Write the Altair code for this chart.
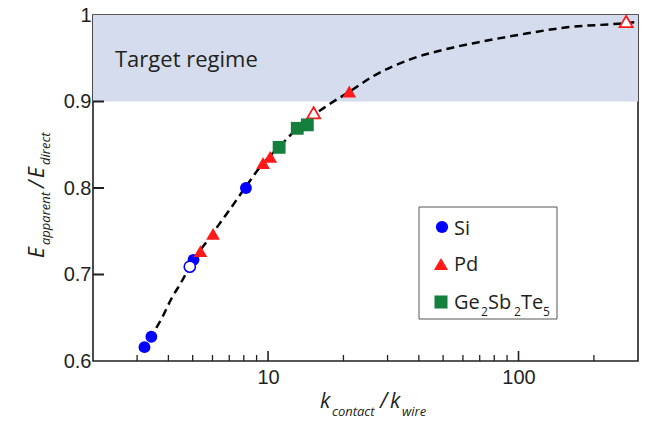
import altair as alt
import pandas as pd

# ---- data ----
si_k = [3.21, 3.42, 5.04, 8.16]
si_e = [0.616, 0.628, 0.717, 0.800]
si_open_k = [4.87]
si_open_e = [0.709]
pd_k = [5.37, 6.03, 9.55, 10.2, 21.1]
pd_e = [0.727, 0.747, 0.829, 0.836, 0.9115]
pd_open_k = [15.2, 269]
pd_open_e = [0.887, 0.9925]
gst_k = [11.07, 13.08, 14.35]
gst_e = [0.847, 0.869, 0.873]

curve_k = [3.15, 3.42, 3.79, 4.11, 4.48, 5.00, 5.75, 7.03, 8.08, 9.46, 11.2, 13.4,
           17.4, 21.3, 26.2, 37.2, 50.4, 67.8, 100, 159, 252, 300]
curve_e = [0.613, 0.629, 0.651, 0.672, 0.690, 0.715, 0.740, 0.775, 0.800, 0.827, 0.849, 0.872,
           0.896, 0.912, 0.929, 0.949, 0.960, 0.968, 0.977, 0.986, 0.990, 0.992]

x_labels = [10, 100]
x_minor = [3, 4, 5, 6, 7, 8, 9, 20, 30, 40, 50, 60, 70, 80, 90, 200]
x_major = [10, 100]
y_labels = [0.6, 0.7, 0.8, 0.9, 1.0]
y_inner = [0.7, 0.8, 0.9]
target_lo, target_hi = 0.9, 1.0

W, H = 545, 346
BLUE = "#0000ff"
RED = "#ff1a1a"
GREEN = "#15803d"
INK = "#231f20"

xs = alt.Scale(type="log", domain=[2, 300], nice=False)
ys = alt.Scale(domain=[0.6, 1.0], nice=False, zero=False)
x_axis = alt.Axis(values=x_labels, format=".0f", ticks=False, domain=False, grid=False,
                  labelFontSize=20, labelFont="Liberation Sans", labelColor=INK,
                  labelPadding=6, title=None)
y_axis = alt.Axis(values=y_labels, format=".1~f", ticks=False, domain=False, grid=False,
                  labelFontSize=20, labelFont="Liberation Sans", labelColor=INK,
                  labelPadding=2, title=None)


def df(k, e):
    return pd.DataFrame({"k": k, "e": e})


X = alt.X("k:Q", scale=xs, axis=x_axis)
Y = alt.Y("e:Q", scale=ys, axis=y_axis)

shade = alt.Chart(pd.DataFrame({"k": [2], "k2": [300], "e": [target_lo], "e2": [target_hi]})).mark_rect(
    color="#d4dcee").encode(x=X, x2="k2:Q", y=Y, y2="e2:Q")

curve = alt.Chart(df(curve_k, curve_e)).mark_line(
    color="black", strokeWidth=2.5, strokeDash=[8, 5], interpolate="monotone").encode(x=X, y=Y)

si = alt.Chart(df(si_k, si_e)).mark_point(shape="circle", filled=True, color=BLUE, size=140, opacity=1).encode(x=X, y=Y)
si_open = alt.Chart(df(si_open_k, si_open_e)).mark_point(
    shape="circle", filled=True, fill="white", stroke=BLUE, strokeWidth=1.6, size=125, opacity=1).encode(x=X, y=Y)
pdm = alt.Chart(df(pd_k, pd_e)).mark_point(shape="triangle-up", filled=True, color=RED, size=190, opacity=1).encode(x=X, y=Y)
pd_open = alt.Chart(df(pd_open_k, pd_open_e)).mark_point(
    shape="triangle-up", filled=True, fill="white", stroke=RED, strokeWidth=1.8, size=170, opacity=1).encode(x=X, y=Y)
gst = alt.Chart(df(gst_k, gst_e)).mark_point(shape="square", filled=True, color=GREEN, size=165, opacity=1).encode(x=X, y=Y)

ticks_minor = alt.Chart(pd.DataFrame({"k": x_minor})).mark_rule(color=INK, strokeWidth=1.3).encode(
    x=X, y=alt.value(H), y2=alt.value(H - 6))
ticks_major = alt.Chart(pd.DataFrame({"k": x_major})).mark_rule(color=INK, strokeWidth=1.6).encode(
    x=X, y=alt.value(H), y2=alt.value(H - 10))
ticks_y = alt.Chart(pd.DataFrame({"e": y_inner})).mark_rule(color=INK, strokeWidth=2).encode(
    y=Y, x=alt.value(0), x2=alt.value(11))


def txt(s, x, y, size, italic=False, font="Open Sans", angle=0, color=INK):
    kw = dict(text=s, fontSize=size, font=font, align="left", baseline="alphabetic", color=color)
    if italic:
        kw["fontStyle"] = "italic"
    if angle:
        kw["angle"] = angle
    return alt.Chart(pd.DataFrame({"a": [0]})).mark_text(**kw).encode(x=alt.value(x), y=alt.value(y))


# legend box
leg_box = alt.Chart(pd.DataFrame({"a": [0]})).mark_rect(fill="white", stroke="#555", strokeWidth=1).encode(
    x=alt.value(326), x2=alt.value(464), y=alt.value(192), y2=alt.value(304))
leg_si = alt.Chart(pd.DataFrame({"a": [0]})).mark_point(shape="circle", filled=True, color=BLUE, size=150, opacity=1).encode(
    x=alt.value(349), y=alt.value(212))
leg_pd = alt.Chart(pd.DataFrame({"a": [0]})).mark_point(shape="triangle-up", filled=True, color=RED, size=200, opacity=1).encode(
    x=alt.value(348), y=alt.value(249))
leg_gst = alt.Chart(pd.DataFrame({"a": [0]})).mark_point(shape="square", filled=True, color=GREEN, size=170, opacity=1).encode(
    x=alt.value(348), y=alt.value(287))

legend = [leg_box, leg_si, leg_pd, leg_gst,
          txt("Si", 361, 220, 20),
          txt("Pd", 361, 256, 20),
          txt("Ge", 361, 294, 20),
          txt("2", 388, 301, 12),
          txt("Sb", 395, 294, 20),
          txt("2", 421, 301, 12),
          txt("Te", 428, 294, 20),
          txt("5", 450, 301, 12)]

xtitle = [txt("k", 227, 393, 21, italic=True),
          txt("contact", 239, 401, 13, italic=True),
          txt("/", 287, 393, 21, italic=True),
          txt("k", 297, 393, 21, italic=True),
          txt("wire", 309, 401, 13, italic=True)]

ytitle = [txt("E", -49, 243, 21, italic=True, angle=270),
          txt("apparent", -43, 230, 13, italic=True, angle=270),
          txt("/", -49, 173, 21, italic=True, angle=270),
          txt("E", -49, 163, 21, italic=True, angle=270),
          txt("direct", -43, 150, 13, italic=True, angle=270)]

target = txt("Target regime", 22, 52, 22)

chart = alt.layer(shade, curve, si, si_open, pdm, pd_open, gst, ticks_minor, ticks_major, ticks_y,
                  target, *legend, *xtitle, *ytitle).properties(
    width=W, height=H,
    autosize=alt.AutoSizeParams(type="none"),
    padding={"left": 93, "top": 15, "right": 13, "bottom": 64},
    background="white",
).configure_view(stroke=INK, strokeWidth=1.6)

chart.save("out.html", embed_options={"renderer": "svg", "actions": False})
